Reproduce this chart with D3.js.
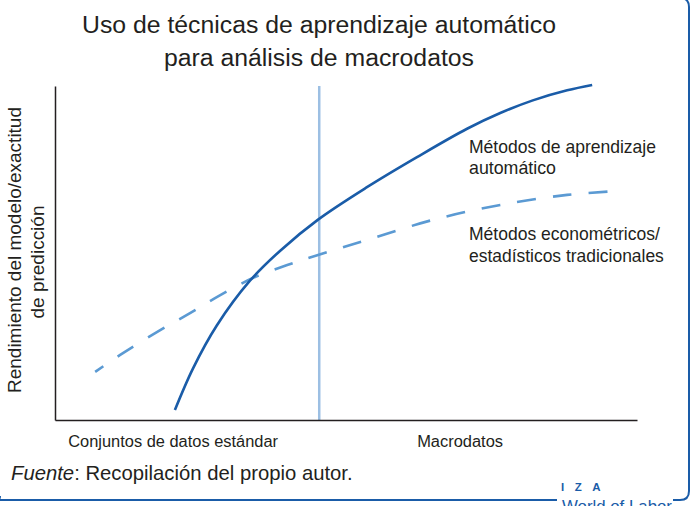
<!DOCTYPE html>
<html><head><meta charset="utf-8">
<script src="https://cdn.jsdelivr.net/npm/d3@7"></script>
<style>
body{margin:0;background:#fff;}
svg{display:block;}
text{font-family:"Liberation Sans",Arial,sans-serif;fill:#231f20;}
</style></head><body>
<svg id="c" width="692" height="506"></svg>
<script>
const titleLines = ["Uso de técnicas de aprendizaje automático", "para análisis de macrodatos"];
const yLabelLines = ["Rendimiento del modelo/exactitud", "de predicción"];
const categories = ["Conjuntos de datos estándar", "Macrodatos"];
const categoryPos = [20.3, 69.6];
const dividerX = 45.4;
const mlX = [20.6, 23.7, 27.8, 33.5, 38.7, 45.2, 53.6, 62.2, 70.8, 76.5, 82.1, 88, 92.3];
const mlY = [3, 15.4, 28.3, 41.7, 50.7, 60, 69.7, 78.7, 87.2, 91.9, 95.7, 98.7, 100.3];
const tradX = [6.9, 11.2, 17.5, 23.2, 28.4, 34, 39.9, 45.2, 53.6, 64.9, 76.5, 88, 97.1];
const tradY = [14.4, 19.5, 26.3, 32, 37.4, 42.5, 46.4, 49.4, 53.9, 59.9, 64.4, 67.4, 68.6];
const mlLabel = ["Métodos de aprendizaje", "automático"];
const tradLabel = ["Métodos econométricos/", "estadísticos tradicionales"];
const sourceItalic = "Fuente";
const sourceRest = ": Recopilación del propio autor.";

const svg = d3.select("#c");
const x = d3.scaleLinear().domain([0, 100]).range([55, 637]);
const y = d3.scaleLinear().domain([0, 100]).range([420, 86]);
const blue = "#1a5ca8";

// font size that makes a text node span a given width
function fitSize(node, width) {
  const fs = parseFloat(node.getAttribute("font-size"));
  return fs * width / node.getComputedTextLength();
}
function fit(sel, width) {
  sel.each(function () { this.setAttribute("font-size", fitSize(this, width).toFixed(2)); });
  return sel;
}

// frame
svg.append("path")
  .attr("d", "M-2,500 L557,500 M673,500 L680,500 Q689,500 689,491 L689,7 Q689,-2 680,-2")
  .attr("fill", "none").attr("stroke", blue).attr("stroke-width", 2);
svg.append("path")
  .attr("d", "M-2,500 Q0,500 0,496")
  .attr("fill", "none").attr("stroke", blue).attr("stroke-width", 2);

// title
const title = svg.append("g").selectAll("text").data(titleLines).join("text")
  .attr("x", 319).attr("y", (d, i) => 33 + i * 33)
  .attr("text-anchor", "middle").attr("font-size", 24).text(d => d);
const tSize = fitSize(title.nodes()[0], 474);
title.attr("font-size", tSize.toFixed(2));

// vertical divider
svg.append("line")
  .attr("x1", x(dividerX)).attr("x2", x(dividerX))
  .attr("y1", y(100)).attr("y2", y(0))
  .attr("stroke", "#9cbfe3").attr("stroke-width", 2.5);

// axes
const xAxis = d3.axisBottom(x).tickValues([]).tickSize(0).tickSizeOuter(0);
const yAxis = d3.axisLeft(y).tickValues([]).tickSize(0).tickSizeOuter(0);
svg.append("g").attr("transform", `translate(0,${y(0)})`).call(xAxis)
  .select(".domain").attr("stroke", "#231f20").attr("stroke-width", 1.5);
svg.append("g").attr("transform", `translate(${x(0)},0)`).call(yAxis)
  .select(".domain").attr("stroke", "#231f20").attr("stroke-width", 1.5);

// lines
const line = d3.line().x(d => x(d[0])).y(d => y(d[1])).curve(d3.curveCatmullRom.alpha(0.5));
svg.append("path").datum(tradX.map((v, i) => [v, tradY[i]]))
  .attr("d", line).attr("fill", "none").attr("stroke", "#5b9ad3")
  .attr("stroke-width", 2.6).attr("stroke-dasharray", "19,17").attr("stroke-dashoffset", 9);
svg.append("path").datum(mlX.map((v, i) => [v, mlY[i]]))
  .attr("d", line).attr("fill", "none").attr("stroke", blue).attr("stroke-width", 2.6);

// category labels
const cW = [210, 86];
svg.append("g").selectAll("text").data(categories).join("text")
  .attr("x", (d, i) => x(categoryPos[i])).attr("y", 447)
  .attr("text-anchor", "middle").attr("font-size", 16).text(d => d)
  .each(function (d, i) { fit(d3.select(this), cW[i]); });

// y label
const yC = [250, 262];
const yl = svg.append("g").selectAll("text").data(yLabelLines).join("text")
  .attr("transform", (d, i) => `translate(${21 + i * 23},${yC[i]}) rotate(-90)`)
  .attr("text-anchor", "middle").attr("font-size", 16).text(d => d);
const ySize = fitSize(yl.nodes()[0], 286);
yl.attr("font-size", ySize.toFixed(2));

// series labels
const mW = [187, 87];
svg.append("g").selectAll("text").data(mlLabel).join("text")
  .attr("x", 469).attr("y", (d, i) => 153 + i * 21).attr("font-size", 16).text(d => d)
  .each(function (d, i) { fit(d3.select(this), mW[i]); });
const trW = [191, 195];
svg.append("g").selectAll("text").data(tradLabel).join("text")
  .attr("x", 469).attr("y", (d, i) => 240 + i * 22).attr("font-size", 16).text(d => d)
  .each(function (d, i) { fit(d3.select(this), trW[i]); });

// source
const src = svg.append("text").attr("x", 11).attr("y", 480).attr("font-size", 17);
src.append("tspan").attr("font-style", "italic").text(sourceItalic);
src.append("tspan").text(sourceRest);
fit(src, 342);

// logo
svg.append("text").attr("x", 561).attr("y", 491).attr("font-size", 11.5).attr("font-weight", "bold")
  .attr("letter-spacing", 10.5).style("fill", blue).text("IZA");
fit(svg.append("text").attr("x", 562).attr("y", 512).attr("font-size", 16)
  .style("fill", blue).text("World of Labor"), 110);
</script></body></html>
